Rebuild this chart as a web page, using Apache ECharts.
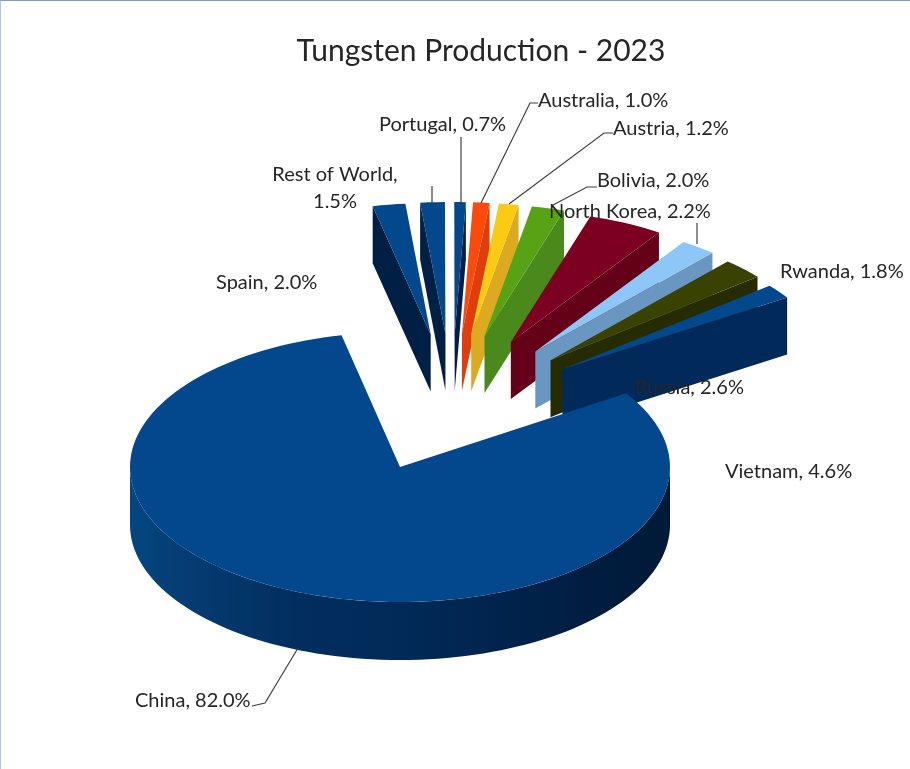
<!DOCTYPE html>
<html>
<head>
<meta charset="utf-8">
<style>
  html, body { margin: 0; padding: 0; background: #fff; }
  #chart { position: absolute; left: 0; top: 0; width: 910px; height: 769px; }
  #edge { position: absolute; left: 0; top: 0; width: 909px; height: 768px;
          border-left: 1px solid #a8c8ea; border-top: 1px solid #7f9cc8; pointer-events: none; }
</style>
<script src="https://cdn.jsdelivr.net/npm/echarts@6/dist/echarts.min.js"></script>
</head>
<body>
<div id="chart"></div>
<div id="edge"></div>
<script>
// Clockwise from the rear of the pie.
const categories = ['Spain', 'Rest of World', 'Portugal', 'Australia', 'Austria', 'Bolivia',
                    'Vietnam', 'North Korea', 'Russia', 'Rwanda', 'China'];
const shares = [2.0, 1.5, 0.7, 1.0, 1.2, 2.0, 4.6, 2.2, 2.6, 1.8, 82.0];

const topColors = ['#03488c', '#03488c', '#03488c', '#fb4a0c', '#fbcb14', '#58a315',
                   '#7c0022', '#8cc7f8', '#3a4200', '#03488c', '#03488c'];
const wallColors = ['#001f45', '#001f45', '#001f45', '#e03d0d', '#dcaa20', '#4a8a1c',
                    '#650019', '#6a97c2', '#272c00', '#012a5a', null];

// Scene geometry: oblique view of a flat disc.
const START_ANGLE = 102.5;
const DISC = { x: 400, y: 467, rx: 270, ry: 135, depth: 58 };
const FAN = { x: 452, y: 421, spreadX: 137, spreadY: 87.5, rx: 268, ry: 131.5, depth: 57 };
const MAIN_SLICE = categories.indexOf('China');

const total = shares.reduce((a, b) => a + b, 0);
let cursor = START_ANGLE;
const sliceRows = shares.map((v) => {
  const hi = cursor;
  const lo = cursor - v / total * 360;
  cursor = lo;
  return [v, lo, hi];
});

const rad = (d) => d * Math.PI / 180;

function renderSlice(params, api) {
  const i = params.dataIndex;
  const lo = api.value(1);
  const hi = api.value(2);
  const mid = rad((lo + hi) / 2);
  const isMain = i === MAIN_SLICE;
  const g = isMain ? DISC : FAN;
  const ox = isMain ? DISC.x : FAN.x + FAN.spreadX * Math.cos(mid);
  const oy = isMain ? DISC.y : FAN.y - FAN.spreadY * Math.sin(mid);
  const rim = (deg, drop) => [ox + g.rx * Math.cos(rad(deg)), oy - g.ry * Math.sin(rad(deg)) + (drop || 0)];

  const steps = Math.max(2, Math.ceil((hi - lo) / 2));
  const topPts = [[ox, oy]];
  for (let s = 0; s <= steps; s++) topPts.push(rim(lo + (hi - lo) * s / steps));

  const children = [];
  const flatWall = wallColors[i];
  const radialWall = (deg) => ({
    type: 'polygon',
    shape: { points: [[ox, oy], rim(deg), rim(deg, g.depth), [ox, oy + g.depth]] },
    style: { fill: flatWall }
  });
  if (!isMain) {
    // A radial cut shows only when its outward side faces the viewer.
    if (Math.cos(rad(hi)) < 0) children.push(radialWall(hi));
    if (Math.cos(rad(lo)) > 0) children.push(radialWall(lo));
  } else {
    const front = [];
    for (let d = 180; d <= 360; d += 2) front.push(rim(d));
    for (let d = 360; d >= 180; d -= 2) front.push(rim(d, g.depth));
    children.push({
      type: 'polygon',
      shape: { points: front },
      style: {
        fill: new echarts.graphic.LinearGradient(0, 0, 1, 0, [
          { offset: 0, color: '#04467f' },
          { offset: 0.13, color: '#053a70' },
          { offset: 0.32, color: '#022d5e' },
          { offset: 0.5, color: '#012a58' },
          { offset: 0.7, color: '#00234c' },
          { offset: 0.88, color: '#001c3e' },
          { offset: 1, color: '#001a38' }
        ])
      }
    });
  }
  children.push({ type: 'polygon', shape: { points: topPts }, style: { fill: topColors[i] } });
  return { type: 'group', children };
}

// Draw order: the fan from the rear outwards, then the main disc over its foot.
const drawOrder = categories.map((_, i) => i).sort((a, b) => {
  if (a === MAIN_SLICE) return 1;
  if (b === MAIN_SLICE) return -1;
  const s = (k) => Math.sin(rad((sliceRows[k][1] + sliceRows[k][2]) / 2));
  return s(b) - s(a);
});

const labelText = (name) => {
  const i = categories.indexOf(name);
  return name + ', ' + shares[i].toFixed(1) + '%';
};

// Hand-placed callouts: name, left edge, vertical centre.
const callouts = [
  ['Portugal', 379, 125], ['Australia', 538, 101], ['Austria', 613, 129],
  ['Bolivia', 597, 181], ['North Korea', 549, 212], ['Spain', 216, 283],
  ['Rwanda', 780, 272], ['Russia', 635, 388], ['Vietnam', 725, 472], ['China', 135, 701]
];
const leaders = [
  [[461, 137], [461, 203]],
  [[432, 186], [432, 204]],
  [[481, 203], [530, 103], [538, 103]],
  [[509, 204], [604, 133], [613, 133]],
  [[553, 205], [587, 187], [597, 187]],
  [[697, 223], [697, 244]],
  [[298, 648], [265, 703], [252, 706]]
];

const labelFont = { fontFamily: 'Lato', fontSize: 20, fill: '#262626' };
const graphics = [];
leaders.forEach((pts) => graphics.push({
  type: 'polyline', z: 20, shape: { points: pts },
  style: { stroke: '#404040', lineWidth: 1.2, fill: null }
}));
callouts.forEach(([name, x, y]) => graphics.push({
  type: 'text', z: 30, x, y,
  style: Object.assign({ text: labelText(name), textAlign: 'left', textVerticalAlign: 'middle' }, labelFont)
}));
const rowShare = shares[categories.indexOf('Rest of World')].toFixed(1) + '%';
graphics.push({ type: 'text', z: 30, x: 335, y: 175,
  style: Object.assign({ text: 'Rest of World,', textAlign: 'center', textVerticalAlign: 'middle' }, labelFont) });
graphics.push({ type: 'text', z: 30, x: 335, y: 202,
  style: Object.assign({ text: rowShare, textAlign: 'center', textVerticalAlign: 'middle' }, labelFont) });

const chart = echarts.init(document.getElementById('chart'), null, { renderer: 'canvas' });
chart.setOption({
  animation: false,
  backgroundColor: '#ffffff',
  title: {
    text: 'Tungsten Production - 2023',
    left: 476, top: 31, textAlign: 'center',
    textStyle: { fontFamily: 'Lato', fontSize: 30, fontWeight: 'normal', color: '#262626' }
  },
  graphic: { elements: graphics },
  series: [{
    type: 'custom',
    coordinateSystem: 'none',
    silent: true,
    data: drawOrder.map((i) => ({ name: categories[i], value: sliceRows[i] })),
    renderItem: (params, api) => renderSlice({ dataIndex: drawOrder[params.dataIndex] }, api)
  }]
});
</script>
</body>
</html>
